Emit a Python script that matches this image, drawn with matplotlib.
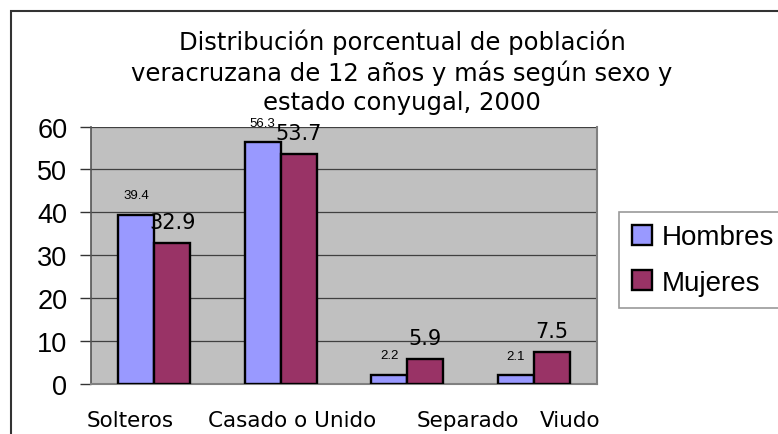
import matplotlib
matplotlib.use("Agg")
import matplotlib.pyplot as plt
import matplotlib.transforms as mtransforms
from matplotlib.patches import Rectangle
import numpy as np

categories = ["Solteros", "Casado o Unido", "Separado", "Viudo"]
hombres = [39.4, 56.3, 2.2, 2.1]
mujeres = [32.9, 53.7, 5.9, 7.5]
series_names = ["Hombres", "Mujeres"]
yticks = [0, 10, 20, 30, 40, 50, 60]
title = "Distribución porcentual de población\nveracruzana de 12 años y más según sexo y\nestado conyugal, 2000"

W, H = 778, 435
fig = plt.figure(figsize=(W / 100, H / 100), dpi=100)
fig.patch.set_facecolor("white")

# outer chart border
fig.patches.append(Rectangle((11 / W, -0.05), 1.0, 1 - 12 / H + 0.05, transform=fig.transFigure,
                             fill=False, edgecolor="#333333", linewidth=1.5, clip_on=False))

ax = fig.add_axes([91 / W, 1 - 385 / H, (597 - 91) / W, (385 - 127.5) / H])
ax.set_facecolor("#C0C0C0")

x = np.arange(len(categories))
bw = 0.285
b1 = ax.bar(x - bw / 2, hombres, bw, color="#9999FF", edgecolor="black", linewidth=1.7,
            label=series_names[0], zorder=3)
b2 = ax.bar(x + bw / 2, mujeres, bw, color="#993366", edgecolor="black", linewidth=1.7,
            label=series_names[1], zorder=3)

ax.set_xlim(-0.5, len(categories) - 0.5)
ax.set_ylim(0, 60)
ax.set_yticks(yticks)
ax.yaxis.grid(True, color="#404040", linewidth=0.9, zorder=1)
ax.set_axisbelow(True)

ax.spines["top"].set_visible(False)
ax.spines["right"].set_color("#808080")
ax.spines["right"].set_linewidth(1.5)
ax.spines["left"].set_color("#555555")
ax.spines["left"].set_linewidth(1.2)
ax.spines["bottom"].set_color("#808080")
ax.spines["bottom"].set_linewidth(1.5)

ax.tick_params(axis="y", direction="out", length=8, width=1, color="#333333", pad=9,
               labelsize=19.5)
for lab in ax.get_yticklabels():
    lab.set_fontfamily("Liberation Sans")
ax.tick_params(axis="x", length=0, pad=18.5)
ax.set_xticks(x)
ax.set_xticklabels(categories, fontfamily="DejaVu Sans", fontsize=15.5, va="top")
offsets_px = [-24, 11, 61, 36]
for lab, dx in zip(ax.get_xticklabels(), offsets_px):
    lab.set_transform(lab.get_transform() + mtransforms.ScaledTranslation(dx / 100, 0, fig.dpi_scale_trans))

for rect, v in zip(b1, hombres):
    ax.annotate(f"{v}", (rect.get_x() + rect.get_width() / 2, v), xytext=(0, 14),
                textcoords="offset points", ha="center", va="center",
                fontsize=9.5, fontfamily="Liberation Sans", zorder=5, annotation_clip=False)
for rect, v in zip(b2, mujeres):
    ax.annotate(f"{v}", (rect.get_x() + rect.get_width() / 2, v), xytext=(0, 15),
                textcoords="offset points", ha="center", va="center",
                fontsize=15, fontfamily="DejaVu Sans", zorder=5, annotation_clip=False)

fig.text(402 / W, 1 - 72 / H, title, ha="center", va="center", fontsize=17.5,
         fontfamily="DejaVu Sans", linespacing=1.27)

leg = fig.legend(handles=[b1, b2], labels=series_names, loc="upper left",
                 bbox_to_anchor=(619 / W, 1 - 213 / H), prop={"family": "Liberation Sans", "size": 20},
                 frameon=True, fancybox=False, edgecolor="#808080", borderpad=0.45,
                 handlelength=0.72, handleheight=0.72, handletextpad=0.36, labelspacing=0.7,
                 borderaxespad=0)
leg.get_frame().set_linewidth(1.2)

fig.savefig("out.png", dpi=100)
